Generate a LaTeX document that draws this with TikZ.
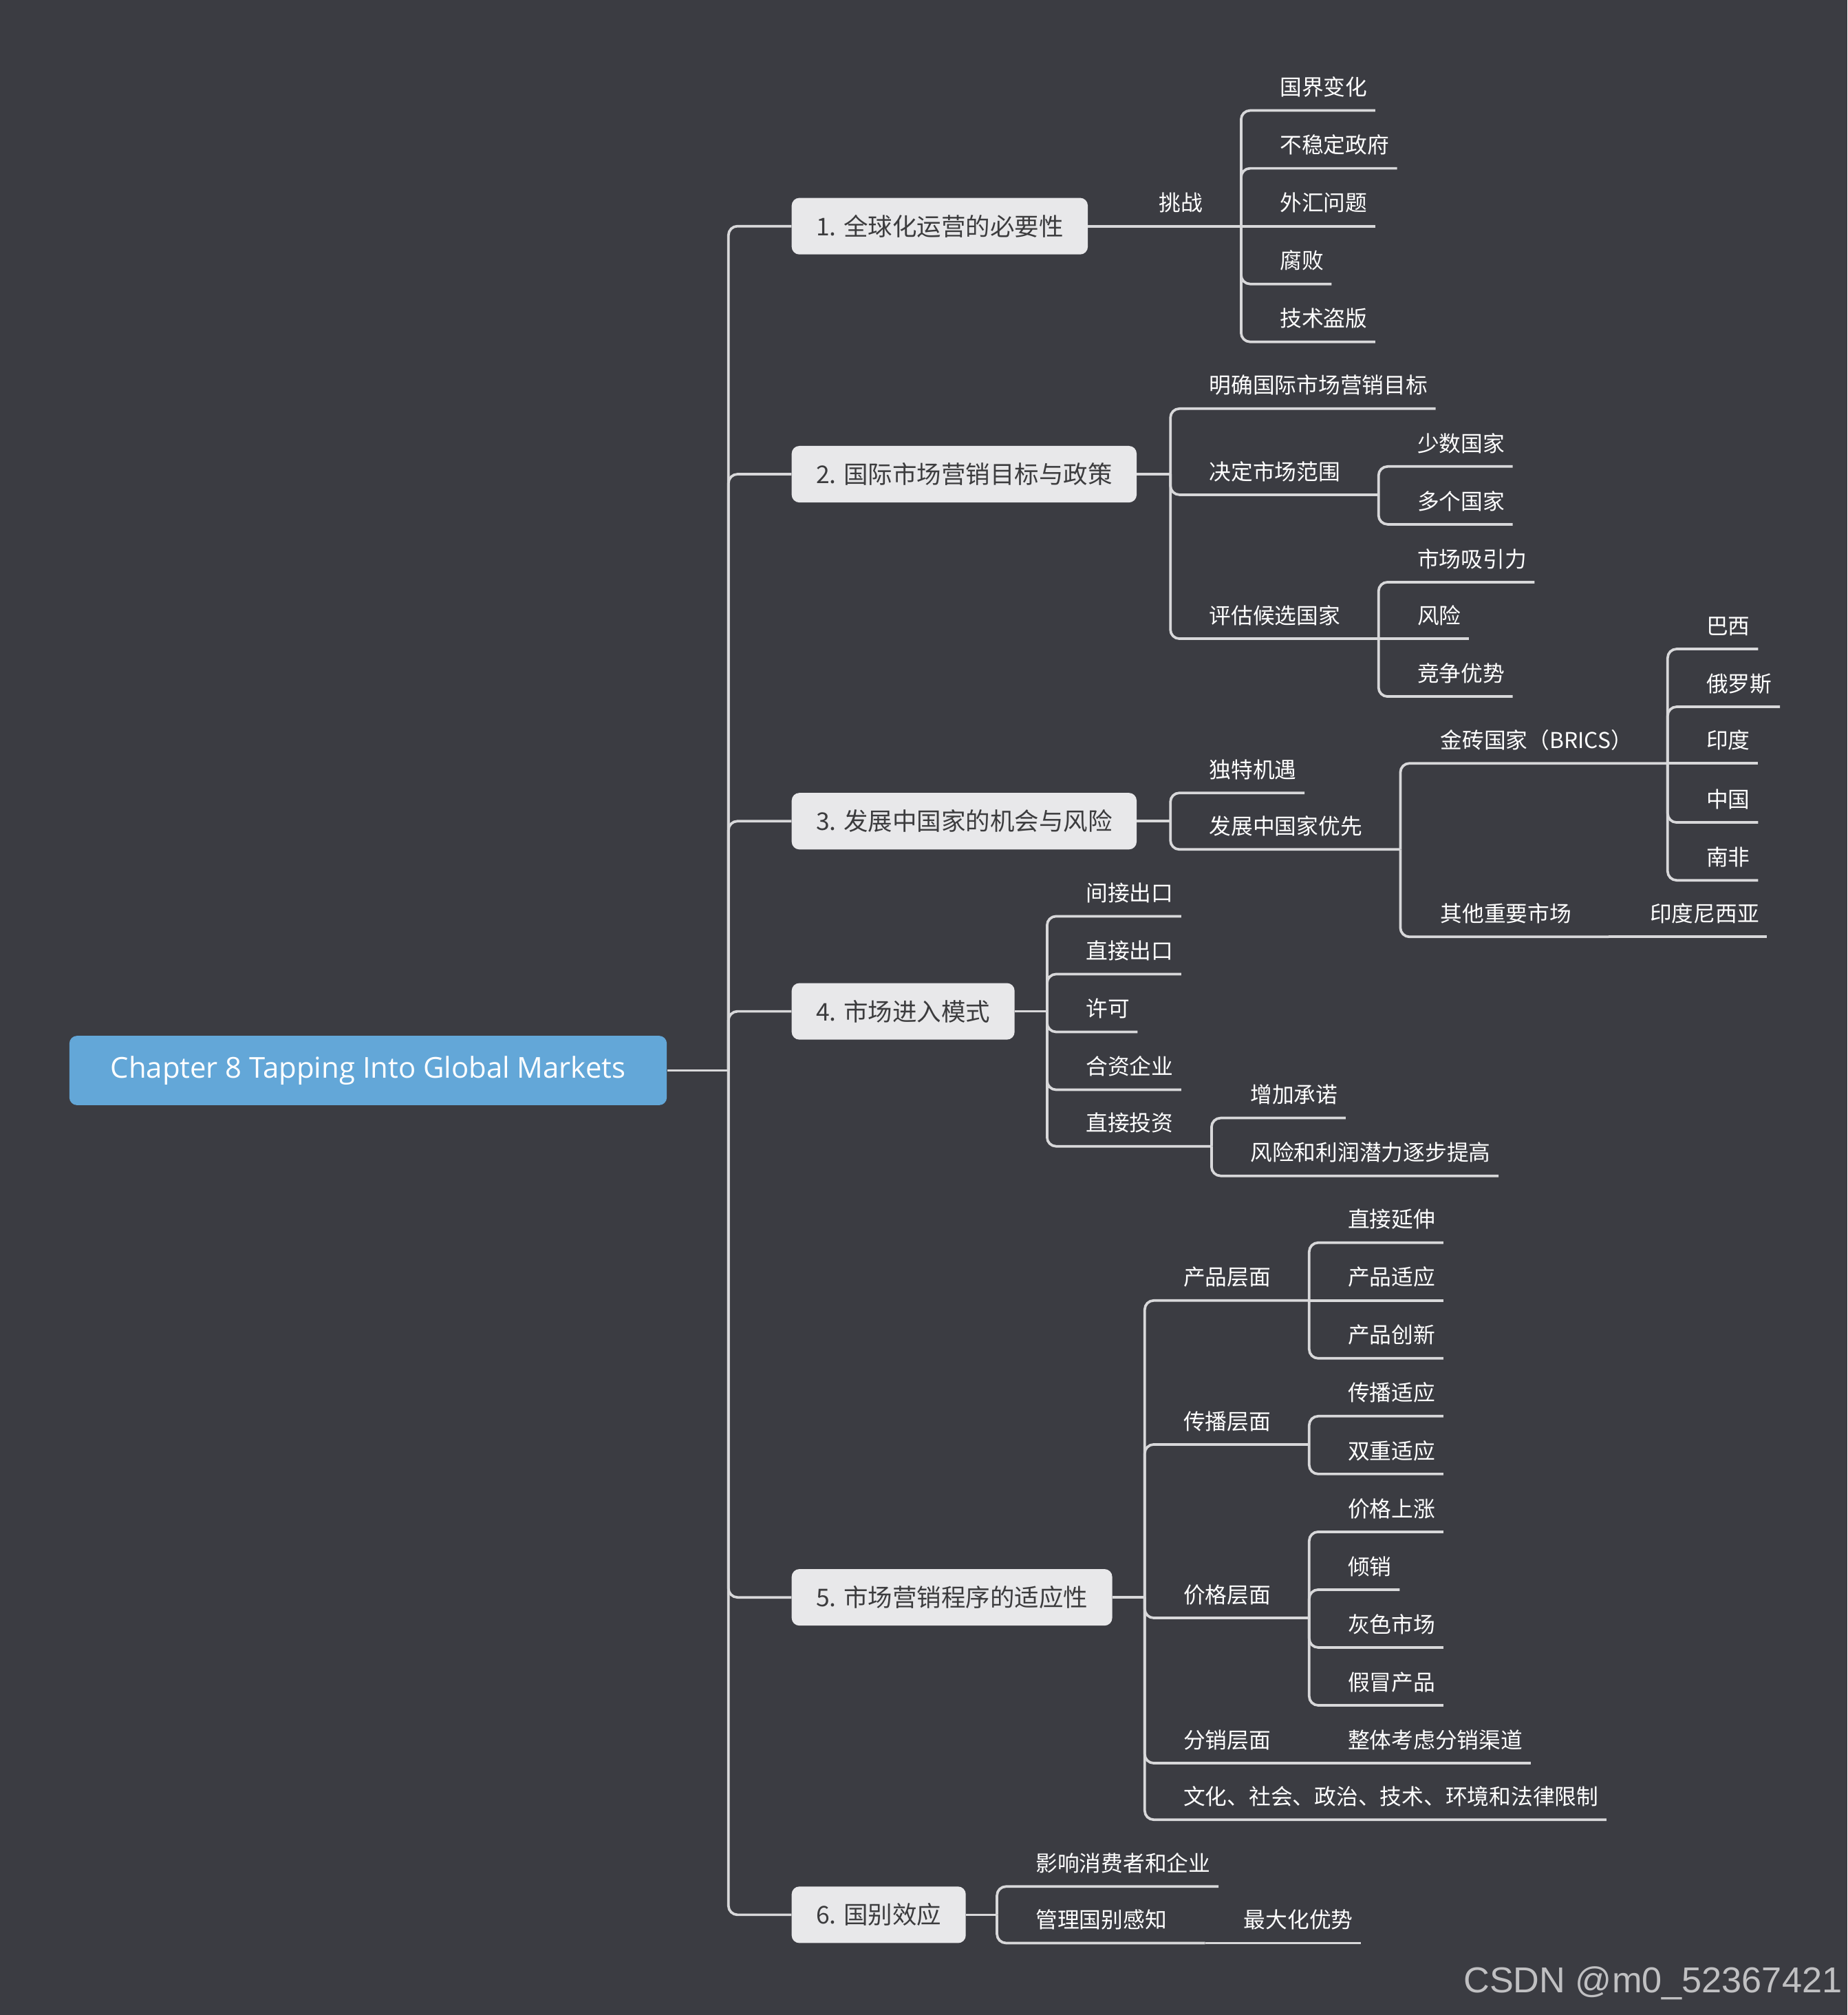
\documentclass[tikz,border=0pt]{standalone}
\usepackage{fontspec}
\setmainfont{Noto Sans CJK SC}
\newfontfamily\rootfont{Open Sans}
\newfontfamily\markfont{Liberation Sans}
\definecolor{bgdark}{RGB}{59,60,66}
\definecolor{linegray}{RGB}{216,216,218}
\definecolor{boxgray}{RGB}{232,232,234}
\definecolor{boxtext}{RGB}{60,60,62}
\definecolor{rootblue}{RGB}{99,167,216}
\definecolor{markgray}{RGB}{192,192,194}
\begin{document}
\begin{tikzpicture}[x=1pt, y=-1pt,
    link/.style={draw=linegray, line width=2pt, rounded corners=7pt},
    rootbox/.style={fill=rootblue, text=white, rounded corners=6pt, minimum width=465pt, minimum height=54pt, font=\rootfont\fontsize{22.4}{22.4}\selectfont},
    topic/.style={fill=boxgray, text=boxtext, rounded corners=6pt, anchor=west, minimum height=44pt, inner xsep=19pt, font=\fontsize{19}{19}\selectfont},
    leaf/.style={anchor=south west, inner xsep=6pt, inner ysep=0pt, text depth=11.5pt, text=white, font=\fontsize{17}{17}\selectfont}]
    \fill[bgdark] (0,0) rectangle (1438,1568);
    \useasboundingbox (0,0) rectangle (1438,1568);

    \node[rootbox] (root) at (286.5,833) {Chapter 8 Tapping Into Global Markets};
    \coordinate (trunk) at (567,833);
    \draw[link] (root.east) -- (trunk);

    \node[topic] (t1) at (616,176) {1. 全球化运营的必要性};
    \node[topic] (t2) at (616,369) {2. 国际市场营销目标与政策};
    \node[topic] (t3) at (616,639) {3. 发展中国家的机会与风险};
    \node[topic] (t4) at (616,787) {4. 市场进入模式};
    \node[topic] (t5) at (616,1243) {5. 市场营销程序的适应性};
    \node[topic] (t6) at (616,1490) {6. 国别效应};
    \draw[link] (trunk) |- (t1.west);
    \draw[link] (trunk) |- (t2.west);
    \draw[link] (trunk) |- (t3.west);
    \draw[link] (trunk) |- (t4.west);
    \draw[link] (trunk) |- (t5.west);
    \draw[link] (trunk) |- (t6.west);

    % 1
    \node[leaf] (tiaozhan) at (896,176) {挑战};
    \coordinate (tiaozhan-b) at (966,176);
    \draw[link] (t1.east) -- (tiaozhan-b);
    \node[leaf] (guojie) at (990,86) {国界变化};
    \node[leaf] (buwending) at (990,131) {不稳定政府};
    \node[leaf] (waihui) at (990,176) {外汇问题};
    \node[leaf] (fubai) at (990,221) {腐败};
    \node[leaf] (daoban) at (990,266) {技术盗版};
    \draw[link] (tiaozhan-b) |- (guojie.south east);
    \draw[link] (tiaozhan-b) |- (buwending.south east);
    \draw[link] (tiaozhan-b) -- (waihui.south east);
    \draw[link] (tiaozhan-b) |- (fubai.south east);
    \draw[link] (tiaozhan-b) |- (daoban.south east);

    % 2
    \coordinate (t2-b) at (911,369);
    \draw[link] (t2.east) -- (t2-b);
    \node[leaf] (mingque) at (935,318) {明确国际市场营销目标};
    \node[leaf] (fanwei) at (935,385) {决定市场范围};
    \coordinate (fanwei-b) at (1073,385);
    \node[leaf] (pinggu) at (935,497) {评估候选国家};
    \coordinate (pinggu-b) at (1073,497);
    \draw[link] (t2-b) |- (mingque.south east);
    \draw[link] (t2-b) |- (fanwei-b);
    \draw[link] (t2-b) |- (pinggu-b);
    \node[leaf] (shaoshu) at (1097,363) {少数国家};
    \node[leaf] (duoge) at (1097,408) {多个国家};
    \draw[link] (fanwei-b) |- (shaoshu.south east);
    \draw[link] (fanwei-b) |- (duoge.south east);
    \node[leaf] (xiyin) at (1097,453) {市场吸引力};
    \node[leaf] (fengxian) at (1097,497) {风险};
    \node[leaf] (jingzheng) at (1097,542) {竞争优势};
    \draw[link] (pinggu-b) |- (xiyin.south east);
    \draw[link] (pinggu-b) -- (fengxian.south east);
    \draw[link] (pinggu-b) |- (jingzheng.south east);

    % 3
    \coordinate (t3-b) at (911,639);
    \draw[link] (t3.east) -- (t3-b);
    \node[leaf] (jiyu) at (935,617) {独特机遇};
    \node[leaf] (youxian) at (935,661) {发展中国家优先};
    \coordinate (youxian-b) at (1090,661);
    \draw[link] (t3-b) |- (jiyu.south east);
    \draw[link] (t3-b) |- (youxian-b);
    \node[leaf] (brics) at (1115,594) {金砖国家（BRICS）};
    \coordinate (brics-b) at (1298,594);
    \node[leaf] (qita) at (1115,729) {其他重要市场};
    \coordinate (qita-b) at (1252,729);
    \draw[link] (youxian-b) |- (brics-b);
    \draw[link] (youxian-b) |- (qita-b);
    \node[leaf] (indonesia) at (1278,729) {印度尼西亚};
    \draw[link] (qita-b) -- (indonesia.south east);
    \node[leaf] (baxi) at (1322,505) {巴西};
    \node[leaf] (eluosi) at (1322,550) {俄罗斯};
    \node[leaf] (yindu) at (1322,594) {印度};
    \node[leaf] (zhongguo) at (1322,640) {中国};
    \node[leaf] (nanfei) at (1322,685) {南非};
    \draw[link] (brics-b) |- (baxi.south east);
    \draw[link] (brics-b) |- (eluosi.south east);
    \draw[link] (brics-b) -- (yindu.south east);
    \draw[link] (brics-b) |- (zhongguo.south east);
    \draw[link] (brics-b) |- (nanfei.south east);

    % 4
    \coordinate (t4-b) at (815,787);
    \draw[link] (t4.east) -- (t4-b);
    \node[leaf] (jianjie) at (839,713) {间接出口};
    \node[leaf] (zhijie) at (839,758) {直接出口};
    \node[leaf] (xuke) at (839,803) {许可};
    \node[leaf] (hezi) at (839,848) {合资企业};
    \node[leaf] (touzi) at (839,892) {直接投资};
    \coordinate (touzi-b) at (943,892);
    \draw[link] (t4-b) |- (jianjie.south east);
    \draw[link] (t4-b) |- (zhijie.south east);
    \draw[link] (t4-b) |- (xuke.south east);
    \draw[link] (t4-b) |- (hezi.south east);
    \draw[link] (t4-b) |- (touzi-b);
    \node[leaf] (chengnuo) at (967,870) {增加承诺};
    \node[leaf] (tigao) at (967,915) {风险和利润潜力逐步提高};
    \draw[link] (touzi-b) |- (chengnuo.south east);
    \draw[link] (touzi-b) |- (tigao.south east);

    % 5
    \coordinate (t5-b) at (891,1243);
    \draw[link] (t5.east) -- (t5-b);
    \node[leaf] (chanpin) at (915,1012) {产品层面};
    \coordinate (chanpin-b) at (1019,1012);
    \node[leaf] (chuanbo) at (915,1124) {传播层面};
    \coordinate (chuanbo-b) at (1019,1124);
    \node[leaf] (jiage) at (915,1259) {价格层面};
    \coordinate (jiage-b) at (1019,1259);
    \node[leaf] (fenxiao) at (915,1372) {分销层面};
    \coordinate (fenxiao-b) at (1019,1372);
    \node[leaf] (xianzhi) at (915,1416) {文化、社会、政治、技术、环境和法律限制};
    \draw[link] (t5-b) |- (chanpin-b);
    \draw[link] (t5-b) |- (chuanbo-b);
    \draw[link] (t5-b) |- (jiage-b);
    \draw[link] (t5-b) |- (fenxiao-b);
    \draw[link] (t5-b) |- (xianzhi.south east);
    \node[leaf] (yanshen) at (1043,967) {直接延伸};
    \node[leaf] (cp-shiying) at (1043,1012) {产品适应};
    \node[leaf] (chuangxin) at (1043,1057) {产品创新};
    \draw[link] (chanpin-b) |- (yanshen.south east);
    \draw[link] (chanpin-b) -- (cp-shiying.south east);
    \draw[link] (chanpin-b) |- (chuangxin.south east);
    \node[leaf] (cb-shiying) at (1043,1102) {传播适应};
    \node[leaf] (shuangchong) at (1043,1147) {双重适应};
    \draw[link] (chuanbo-b) |- (cb-shiying.south east);
    \draw[link] (chuanbo-b) |- (shuangchong.south east);
    \node[leaf] (shangzhang) at (1043,1192) {价格上涨};
    \node[leaf] (qingxiao) at (1043,1237) {倾销};
    \node[leaf] (huise) at (1043,1282) {灰色市场};
    \node[leaf] (jiamao) at (1043,1327) {假冒产品};
    \draw[link] (jiage-b) |- (shangzhang.south east);
    \draw[link] (jiage-b) |- (qingxiao.south east);
    \draw[link] (jiage-b) |- (huise.south east);
    \draw[link] (jiage-b) |- (jiamao.south east);
    \node[leaf] (qudao) at (1043,1372) {整体考虑分销渠道};
    \draw[link] (fenxiao-b) -- (qudao.south east);

    % 6
    \coordinate (t6-b) at (776,1490);
    \draw[link] (t6.east) -- (t6-b);
    \node[leaf] (yingxiang) at (800,1468) {影响消费者和企业};
    \node[leaf] (ganzhi) at (800,1512) {管理国别感知};
    \coordinate (ganzhi-b) at (938,1512);
    \draw[link] (t6-b) |- (yingxiang.south east);
    \draw[link] (t6-b) |- (ganzhi-b);
    \node[leaf] (youshi) at (962,1512) {最大化优势};
    \draw[link] (ganzhi-b) -- (youshi.south east);

    \node[anchor=east, inner sep=0pt, text=markgray, font=\markfont\fontsize{28}{28}\selectfont] (mark) at (1434,1543) {CSDN @m0\_52367421};
\end{tikzpicture}
\end{document}
